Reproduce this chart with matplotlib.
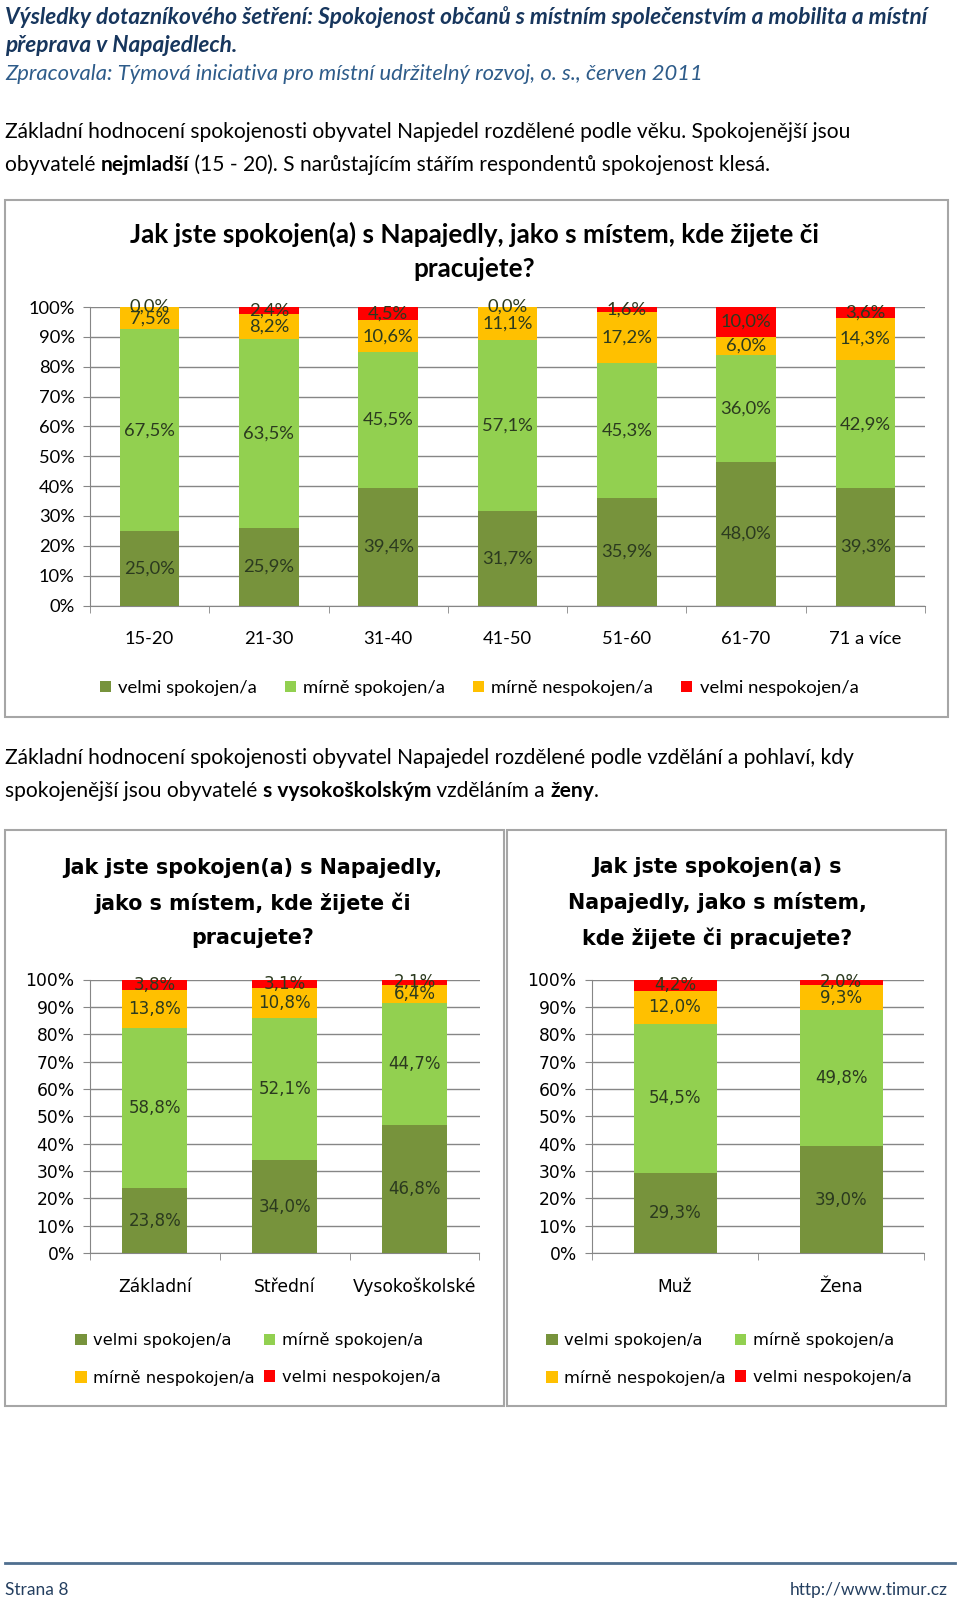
import numpy as np
import matplotlib
matplotlib.use("Agg")
import matplotlib.pyplot as plt
from matplotlib.patches import Rectangle
from matplotlib.lines import Line2D

# ---- data ----
names = ["velmi spokojen/a", "mírně spokojen/a", "mírně nespokojen/a", "velmi nespokojen/a"]
colors = ["#77933C", "#92D050", "#FFC000", "#FF0000"]

age_cats = ["15-20", "21-30", "31-40", "41-50", "51-60", "61-70", "71 a více"]
age_velmi_spok = [25.0, 25.9, 39.4, 31.7, 35.9, 48.0, 39.3]
age_mirne_spok = [67.5, 63.5, 45.5, 57.1, 45.3, 36.0, 42.9]
age_mirne_nesp = [7.5, 8.2, 10.6, 11.1, 17.2, 6.0, 14.3]
age_velmi_nesp = [0.0, 2.4, 4.5, 0.0, 1.6, 10.0, 3.6]

edu_cats = ["Základní", "Střední", "Vysokoškolské"]
edu_velmi_spok = [23.8, 34.0, 46.8]
edu_mirne_spok = [58.8, 52.1, 44.7]
edu_mirne_nesp = [13.8, 10.8, 6.4]
edu_velmi_nesp = [3.8, 3.1, 2.1]

sex_cats = ["Muž", "Žena"]
sex_velmi_spok = [29.3, 39.0]
sex_mirne_spok = [54.5, 49.8]
sex_mirne_nesp = [12.0, 9.3]
sex_velmi_nesp = [4.2, 2.0]

yticks = [0, 10, 20, 30, 40, 50, 60, 70, 80, 90, 100]
ytick_labels = [f"{t}%" for t in yticks]

# ---- page ----
W, H = 960, 1607
fig = plt.figure(figsize=(W / 100, H / 100), dpi=100)
fig.patch.set_facecolor("white")

def fx(x):
    return x / W

def fy(y):
    return 1 - y / H

def ax_rect(l, t, r, b):
    return [fx(l), fy(b), (r - l) / W, (b - t) / H]

FONT = "Lato"
navy = "#17365D"

fig.text(fx(5), fy(17), "Výsledky dotazníkového šetření: Spokojenost občanů s místním společenstvím a mobilita a místní",
         family=FONT, style="italic", weight="bold", fontsize=16.3, color=navy, va="center")
fig.text(fx(5), fy(46), "přeprava v Napajedlech.",
         family=FONT, style="italic", weight="bold", fontsize=16.3, color=navy, va="center")
fig.text(fx(5), fy(74), "Zpracovala: Týmová iniciativa pro místní udržitelný rozvoj, o. s., červen 2011",
         family=FONT, style="italic", fontsize=15.8, color="#2E5C8A", va="center")

renderer = fig.canvas.get_renderer()

def rich(x, y, parts, size=15.1, color="black"):
    # draw one line made of pieces with different weight
    for s, w in parts:
        t = fig.text(x, y, s, family=FONT, fontsize=size, fontweight=w, color=color, va="center")
        bb = t.get_window_extent(renderer)
        x += bb.width / fig.bbox.width

rich(fx(5), fy(132), [("Základní hodnocení spokojenosti obyvatel Napjedel rozdělené podle věku. Spokojenější jsou", "normal")])
rich(fx(5), fy(165), [("obyvatelé ", "normal"), ("nejmladší", "bold"),
                      (" (15 - 20). S narůstajícím stářím respondentů spokojenost klesá.", "normal")])
rich(fx(5), fy(758), [("Základní hodnocení spokojenosti obyvatel Napajedel rozdělené podle vzdělání a pohlaví, kdy", "normal")])
rich(fx(5), fy(791), [("spokojenější jsou obyvatelé ", "normal"), ("s vysokoškolským", "bold"),
                      (" vzděláním a ", "normal"), ("ženy", "bold"), (".", "normal")])

# chart frames
for (l, t, r, b) in [(5, 200, 948, 717), (5, 830, 504, 1406), (507, 830, 946, 1406)]:
    fig.patches.append(Rectangle((fx(l), fy(b)), (r - l) / W, (b - t) / H, transform=fig.transFigure,
                                 fill=False, edgecolor="#A6A6A6", linewidth=1.5))

# footer
fig.add_artist(Line2D([fx(5), fx(955)], [fy(1563), fy(1563)], color="#4F6F8F", linewidth=2))
fig.text(fx(5), fy(1590), "Strana 8", family=FONT, fontsize=12.5, color="#243F60", va="center")
fig.text(fx(948), fy(1590), "http://www.timur.cz", family=FONT, fontsize=12.5, color="#243F60",
         va="center", ha="right")


def fmt(v):
    return f"{v:.1f}".replace(".", ",") + "%"


def stacked(ax, cats, series, family, size, tick_size):
    x = np.arange(len(cats))
    data = np.array(series, dtype=float)
    total = data.sum(axis=0)
    bottom = np.zeros(len(cats))
    handles = []
    for vals, color, name in zip(data, colors, names):
        h = vals / total * 100
        b = ax.bar(x, h, 0.5, bottom=bottom, color=color, label=name, zorder=3)
        handles.append(b)
        for xi, bo, hi, v in zip(x, bottom, h, vals):
            ax.text(xi, bo + hi / 2, fmt(v), ha="center", va="center", family=family,
                    fontsize=size, color="#2B3A1F", zorder=4)
        bottom += h
    ax.set_xlim(-0.5, len(cats) - 0.5)
    ax.set_ylim(0, 100)
    ax.set_yticks(yticks)
    ax.set_yticklabels(ytick_labels, family=family, fontsize=tick_size)
    ax.set_xticks(x)
    ax.set_xticklabels(cats, family=family, fontsize=tick_size)
    ax.set_xticks(np.arange(len(cats) + 1) - 0.5, minor=True)
    ax.tick_params(axis="x", which="major", length=0, pad=18)
    ax.tick_params(axis="x", which="minor", length=5, color="#868686")
    ax.tick_params(axis="y", length=5, color="#868686", pad=6)
    ax.grid(axis="y", color="#868686", linewidth=1, zorder=0)
    for s in ["top", "right"]:
        ax.spines[s].set_visible(False)
    for s in ["left", "bottom"]:
        ax.spines[s].set_color("#868686")
    return handles


# chart 1 - age
ax1 = fig.add_axes(ax_rect(90, 307, 925, 605.5))
h1 = stacked(ax1, age_cats, [age_velmi_spok, age_mirne_spok, age_mirne_nesp, age_velmi_nesp],
             FONT, 13.2, 13.2)
fig.text(fx(474), fy(251), "Jak jste spokojen(a) s Napajedly, jako s místem, kde žijete či\npracujete?",
         family=FONT, weight="bold", fontsize=18.8, ha="center", va="center", linespacing=1.5)
fig.legend(h1, names, loc="center", bbox_to_anchor=(fx(479), fy(688)), ncol=4, frameon=False,
           prop={"family": FONT, "size": 13.3}, handlelength=0.6, handleheight=0.6,
           handletextpad=0.4, columnspacing=1.5)

# chart 2 - education
F2 = "DejaVu Sans"
ax2 = fig.add_axes(ax_rect(90, 979.5, 479.5, 1253))
h2 = stacked(ax2, edu_cats, [edu_velmi_spok, edu_mirne_spok, edu_mirne_nesp, edu_velmi_nesp],
             F2, 12, 12.3)
fig.text(fx(253), fy(903), "Jak jste spokojen(a) s Napajedly,\njako s místem, kde žijete či\npracujete?",
         family=F2, weight="bold", fontsize=14.9, ha="center", va="center", linespacing=1.85)
order = [0, 2, 1, 3]
fig.legend([h2[i] for i in order], [names[i] for i in order], loc="center",
           bbox_to_anchor=(fx(258), fy(1359)), ncol=2, frameon=False,
           prop={"family": F2, "size": 11.8}, handlelength=0.7, handleheight=0.7,
           handletextpad=0.4, columnspacing=0.55, labelspacing=1.3)

# chart 3 - sex
ax3 = fig.add_axes(ax_rect(592, 979.5, 924, 1253))
h3 = stacked(ax3, sex_cats, [sex_velmi_spok, sex_mirne_spok, sex_mirne_nesp, sex_velmi_nesp],
             F2, 12, 12.3)
fig.text(fx(717), fy(903), "Jak jste spokojen(a) s\nNapajedly, jako s místem,\nkde žijete či pracujete?",
         family=F2, weight="bold", fontsize=14.9, ha="center", va="center", linespacing=1.85)
fig.legend([h3[i] for i in order], [names[i] for i in order], loc="center",
           bbox_to_anchor=(fx(729), fy(1359)), ncol=2, frameon=False,
           prop={"family": F2, "size": 11.8}, handlelength=0.7, handleheight=0.7,
           handletextpad=0.4, columnspacing=0.55, labelspacing=1.3)

fig.savefig("out.png", dpi=100)
